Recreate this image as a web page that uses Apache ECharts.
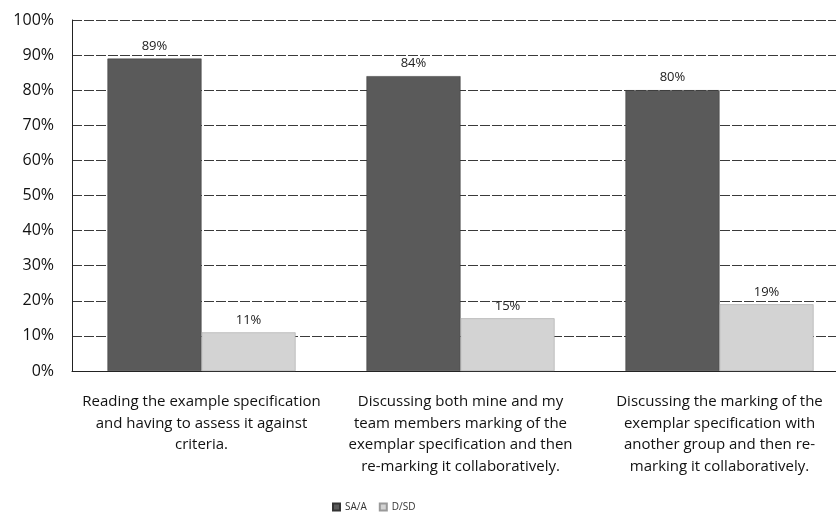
<!DOCTYPE html>
<html>
<head>
<meta charset="utf-8">
<script src="https://cdn.jsdelivr.net/npm/echarts@6/dist/echarts.min.js"></script>
<style>
  html, body { margin: 0; padding: 0; background: #fff; overflow: hidden; }
  /* plot area runs past the right edge in the source, so the canvas is a bit wider than the window */
  #chart { width: 850px; height: 517px; }
</style>
</head>
<body>
<div id="chart"></div>
<script>
const categories = [
  'Reading the example specification\nand having to assess it against\ncriteria.',
  'Discussing both mine and my\nteam members marking of the\nexemplar specification and then\nre-marking it collaboratively.',
  'Discussing the marking of the\nexemplar specification with\nanother group and then re-\nmarking it collaboratively.',
]
const saA = [89, 84, 80]
const dSD = [11, 15, 19]
const yTicks = [0, 10, 20, 30, 40, 50, 60, 70, 80, 90, 100]

const chart = echarts.init(document.getElementById('chart'))

const font = '"Open Sans", "DejaVu Sans", sans-serif'

const valueLabel = {
  show: true,
  position: 'top',
  distance: 6,
  formatter: '{c}%',
  fontSize: 13,
  color: '#222',
}

chart.setOption({
  backgroundColor: '#fff',
  animation: false,
  textStyle: { fontFamily: font },
  grid: {
    left: 72,
    top: 20,
    width: 777,
    height: 351,
  },
  legend: {
    top: 497,
    left: 327,
    icon: 'rect',
    itemWidth: 7,
    itemHeight: 7,
    itemGap: 12,
    textStyle: { fontSize: 10, color: '#333', fontFamily: font },
    data: ['SA/A', 'D/SD'],
  },
  xAxis: {
    type: 'category',
    data: categories,
    axisLine: { lineStyle: { color: '#222' } },
    axisTick: { show: false },
    axisLabel: {
      color: '#111',
      fontSize: 15,
      lineHeight: 21.5,
      margin: 20,
      interval: 0,
    },
  },
  yAxis: {
    type: 'value',
    min: 0,
    max: 100,
    interval: 10,
    axisLine: { show: true, lineStyle: { color: '#222' } },
    axisTick: { show: false },
    axisLabel: {
      color: '#111',
      fontSize: 16,
      margin: 18,
      formatter: (v) => (yTicks.includes(v) ? v + '%' : ''),
    },
    splitLine: { lineStyle: { color: '#3a3a3a', width: 1, type: [10, 2] } },
  },
  series: [
    {
      name: 'SA/A',
      type: 'bar',
      data: saA,
      barGap: '0%',
      barCategoryGap: '27.4%',
      itemStyle: { color: '#5a5a5a', borderColor: '#333', borderWidth: 0.5 },
      label: valueLabel,
    },
    {
      name: 'D/SD',
      type: 'bar',
      data: dSD,
      itemStyle: { color: '#d3d3d3', borderColor: '#999', borderWidth: 0.5 },
      label: valueLabel,
    },
  ],
})
</script>
</body>
</html>
